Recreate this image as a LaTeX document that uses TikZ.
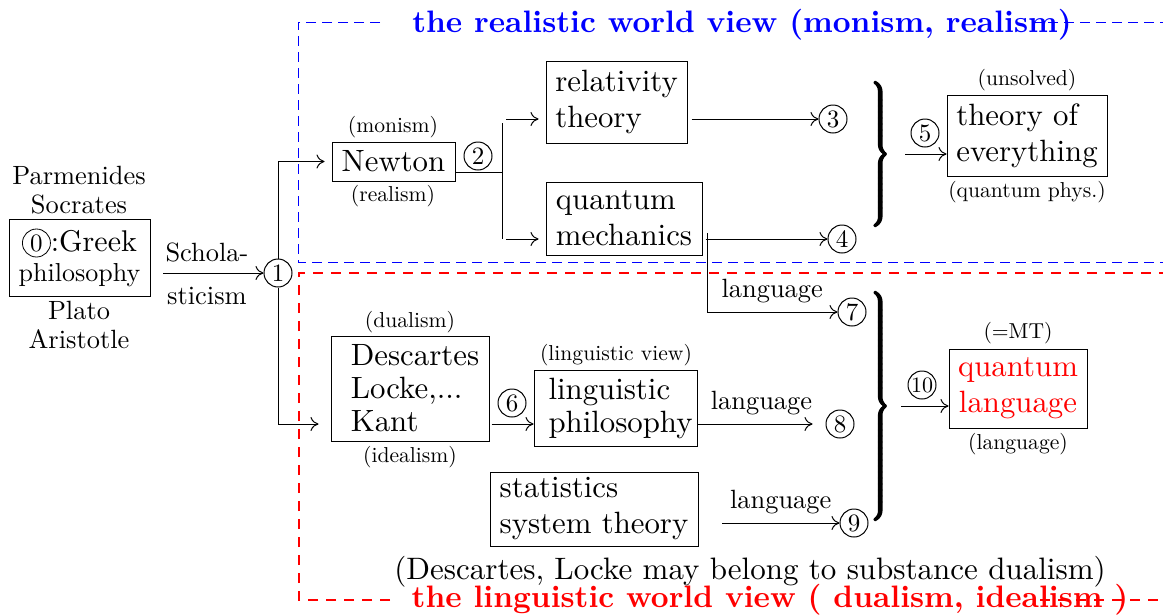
\documentclass[tikz,border=0pt]{standalone}
\usepackage{fontspec}
\setmainfont{lmroman10-regular.otf}[BoldFont=lmroman10-bold.otf, ItalicFont=lmroman10-italic.otf]
\usetikzlibrary{calc,arrows.meta}
\newcommand{\thickbrace}[2]{{\special{pdf:literal direct 2 Tr 1.1 w}$\left.\vrule height #1 depth #2 width 0pt\right\}$\special{pdf:literal direct 0 Tr}}}
\tikzset{
  bx/.style={draw, align=left, inner sep=0pt, font=\fontsize{15.4}{18}\selectfont},
  cnum/.style={circle, draw, inner sep=0pt, minimum size=14pt, font=\fontsize{12.5}{14}\selectfont},
  lab/.style={font=\fontsize{10.8}{13}\selectfont, inner sep=0pt},
  mid/.style={font=\fontsize{13.2}{14.5}\selectfont, align=center, inner sep=0pt},
  brnode/.style={inner sep=0pt},
  bluebox/.style={blue, dash pattern=on 5pt off 3pt, line width=0.5pt},
  redbox/.style={red, dash pattern=on 5pt off 4pt, line width=0.9pt},
  ttl/.style={font=\fontsize{15.5}{18}\selectfont\bfseries, inner sep=0pt},
}
\begin{document}
\begin{tikzpicture}[x=0.5pt,y=-0.5pt, line width=0.5pt, >={To[length=4pt,width=7pt]}]
\useasboundingbox (0,0) rectangle (1163,616);

% dashed regions
\draw[bluebox] (380,22) -- (298,22) -- (298,262) -- (1163,262);
\draw[bluebox] (1032,22) -- (1163,22);
\draw[redbox] (390,600) -- (299,600) -- (299,273) -- (1163,273);
\draw[redbox] (1040,600) -- (1163,600);
\node[ttl, text=blue] (t1) at (742,25) {the realistic world view (monism, realism)};
\node[ttl, text=red] (t2) at (770,600) {the linguistic world view ( dualism, idealism )};

% left part
\node[mid] (phil1) at (79,190) {Parmenides\\Socrates};
\node[bx, align=center, minimum width=70.5pt, minimum height=38.5pt, font=\fontsize{15}{15}\selectfont] (greek) at (79.5,257.5)
  {\tikz[baseline=(z.base)]\node[cnum](z){0};:Greek\\{\fontsize{13}{15}\selectfont philosophy}};
\node[mid] (phil2) at (79,325) {Plato\\Aristotle};
\node[cnum] (c1) at (278,273) {1};
\draw[->, shorten <=6.5pt] (greek.east |- c1) -- node[mid, above=5pt]{Schola-} node[mid, below=7pt]{sticism} (c1);

% realistic part
\node[bx, align=center, minimum width=61.5pt, minimum height=19.5pt] (newton) at (393.5,161.5) {Newton};
\node[lab] (lmon) at (393,127) {(monism)};
\node[lab] (lrea) at (393,196) {(realism)};
\node[cnum] (c2) at (478,156) {2};
\node[bx, minimum width=70.5pt, minimum height=41pt] (rel) at (616.5,102) {relativity\\theory};
\node[bx, minimum width=78pt, minimum height=36.5pt] (qm) at (624,218.5) {quantum\\mechanics};
\node[cnum] (c3) at (833,119) {3};
\node[cnum] (c4) at (842,239) {4};
\node[cnum] (c5) at (925,133) {5};
\node[bx, minimum width=80pt, minimum height=40.5pt] (toe) at (1027,135.5) {theory of\\everything};
\node[lab] (luns) at (1027,80) {(unsolved)};
\node[lab] (lqp) at (1027,192) {(quantum phys.)};

\draw[->, shorten >=3.5pt] (c1.north) |- (newton.west);
\coordinate (nb) at (502,172);
\coordinate (bt) at (502,119);
\coordinate (bb) at (502,239);
\draw (newton.east |- nb) -- (nb);
\draw ([yshift=-2pt]bt) -- (bb);
\draw[->, shorten >=3.5pt, shorten <=2pt] (bt) -- (rel.west |- bt);
\draw[->, shorten >=3.5pt, shorten <=2pt] (bb) -- (qm.west |- bb);
\draw[->, shorten <=2pt] (rel.east |- c3) -- (c3);
\draw[->, shorten <=1.5pt] (qm.east |- c4) -- (c4);
\node[brnode] (br1) at (879,154) {\thickbrace{40.5pt}{35.5pt}};
\coordinate (a5) at (905,154);
\draw[->] (a5) -- (toe.west |- a5);

% linguistic part
\node[cnum] (c7) at (852,312) {7};
\coordinate (lv) at (707,233);
\draw[->] (lv) |- node[mid, pos=0.75, above=4.5pt]{language} (c7);

\node[bx, minimum width=79pt, minimum height=52.5pt, font=\fontsize{15.4}{16.5}\selectfont] (desc) at (410,388.5)
  {\hspace*{5pt}Descartes\\\hspace*{5pt}Locke,...\\\hspace*{5pt}Kant};
\node[lab] (ldua) at (410,322) {(dualism)};
\node[lab] (lide) at (410,457) {(idealism)};
\node[cnum] (c8) at (840,424) {8};
\draw[->, shorten >=6pt] (c1.south) |- (desc.west |- c8);
\node[cnum] (c6) at (512,403) {6};
\node[bx, minimum width=81.5pt, minimum height=38pt, font=\fontsize{15.4}{16.5}\selectfont] (ling) at (615.5,408)
  {\hspace*{5pt}linguistic\\\hspace*{5pt}philosophy};
\node[lab] (lling) at (616,355) {(linguistic view)};
\draw[->, shorten <=1pt] (desc.east |- c8) -- (ling.west |- c8);
\draw[->, shorten >=6.5pt] (ling.east |- c8) -- node[mid, above=4.5pt]{language} (c8);

\node[bx, minimum width=104pt, minimum height=37pt] (stat) at (594,509) {statistics\\system theory};
\node[cnum] (c9) at (854,523) {9};
\coordinate (s9) at (722,523);
\draw[->] (s9) -- node[mid, above=4.5pt]{language} (c9);

\node[brnode] (br2) at (879,406) {\thickbrace{59.5pt}{54.5pt}};
\node[cnum, font=\fontsize{11}{12}\selectfont] (c10) at (922,385) {10};
\node[bx, align=center, text=red, minimum width=69pt, minimum height=39.5pt] (ql) at (1018,388.5) {quantum\\language};
\coordinate (a10) at (901,406);
\draw[->] (a10) -- (ql.west |- a10);
\node[lab] (lmt) at (1018,333) {(=MT)};
\node[lab] (llang) at (1018,444) {(language)};

\node[font=\fontsize{15.5}{18}\selectfont, inner sep=0pt] (note) at (750,572) {(Descartes, Locke may belong to substance dualism)};
\end{tikzpicture}
\end{document}
